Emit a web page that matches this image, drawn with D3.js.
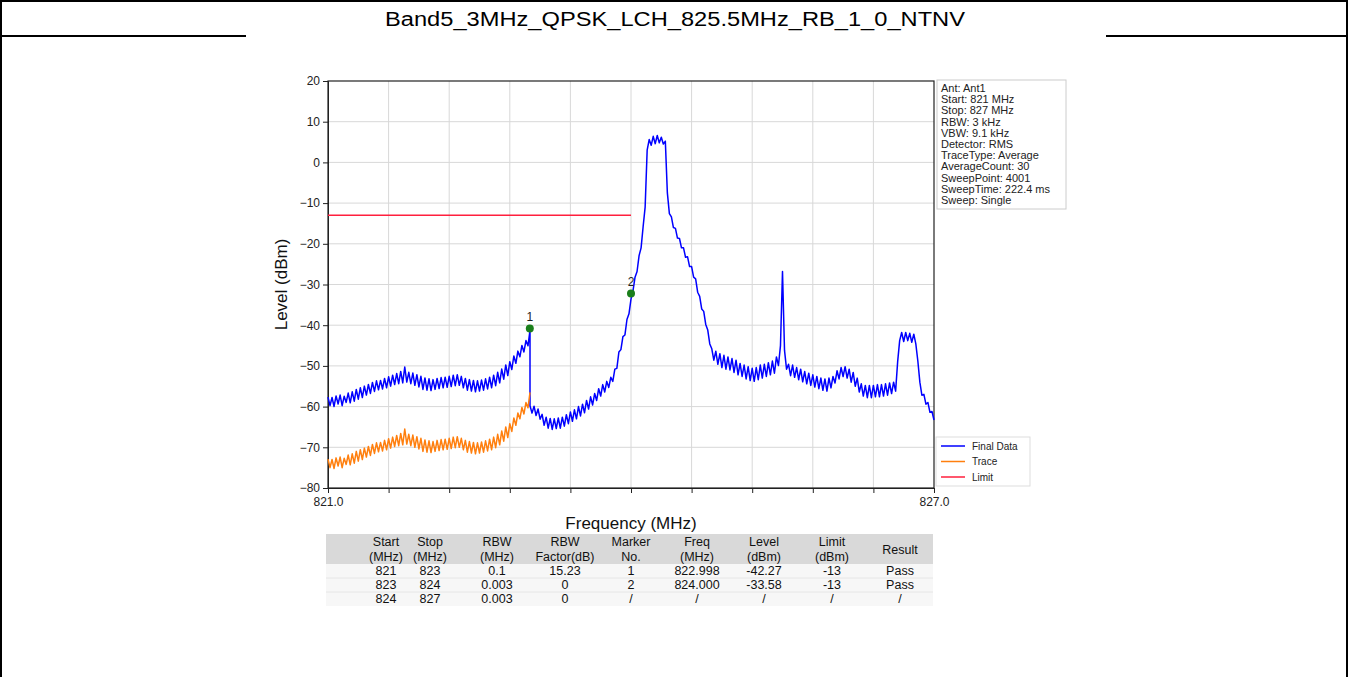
<!DOCTYPE html>
<html><head><meta charset="utf-8">
<script src="https://cdn.jsdelivr.net/npm/d3@7"></script>
<style>
body{margin:0;background:#fff;}
svg text{font-family:"Liberation Sans",Arial,sans-serif;}
</style></head>
<body>
<svg id="c" width="1348" height="677"></svg>
<script>
// ---------------- data ----------------
const title = "Band5_3MHz_QPSK_LCH_825.5MHz_RB_1_0_NTNV";
const freqStart = 821, freqStop = 827;
const yTicks = [-80,-70,-60,-50,-40,-30,-20,-10,0,10,20];
const yTickLabels = ["−80","−70","−60","−50","−40","−30","−20","−10","0","10","20"];
const xTicks = [821.0,821.6,822.2,822.8,823.4,824.0,824.6,825.2,825.8,826.4,827.0];
const xTickLabels = ["821.0","","","","","","","","","","827.0"];

// Trace (821–823 MHz, 0.02 MHz step), dBm
const traceStart = 821, traceStop = 823;
const traceValues = [
-72.9,-75.0,-73.0,-75.2,-72.6,-74.6,-72.4,-75.0,-72.7,-74.2,
-71.9,-74.3,-71.6,-73.9,-71.0,-73.4,-70.6,-73.0,-70.2,-72.4,
-69.8,-72.0,-69.3,-71.5,-68.9,-71.1,-68.8,-70.9,-68.3,-70.6,
-67.9,-70.2,-67.5,-69.8,-67.1,-69.6,-66.6,-69.4,-65.5,-69.2,
-66.8,-69.6,-67.0,-70.0,-67.4,-70.4,-67.8,-71.0,-68.2,-71.2,
-68.4,-71.3,-68.6,-71.0,-68.3,-70.8,-68.1,-70.6,-68.0,-70.5,
-67.8,-70.3,-67.5,-70.1,-67.4,-70.0,-67.8,-70.6,-68.3,-71.2,
-68.6,-71.4,-68.8,-71.6,-68.9,-71.4,-68.7,-71.2,-68.4,-70.9,
-68.0,-70.6,-67.5,-70.1,-66.8,-69.4,-66.0,-68.5,-65.0,-67.6,
-64.2,-66.1,-62.8,-64.6,-61.6,-63.0,-60.2,-61.8,-59.0,-60.3,
-56.5];
const rbwFactor = 15.23;

// Final Data above 823 MHz (0.02 MHz step), dBm
const finalStart = 823, finalStop = 827;
const finalValues = [
-59.8,-61.6,-59.9,-62.2,-60.6,-63.1,-61.9,-64.6,-62.6,-65.3,
-62.9,-65.6,-63.0,-65.4,-62.8,-65.3,-62.6,-64.8,-62.0,-64.2,
-61.3,-63.6,-60.8,-63.0,-60.0,-62.3,-59.4,-61.5,-58.5,-60.6,
-57.6,-59.6,-56.8,-58.5,-55.6,-57.4,-54.6,-56.4,-53.8,-55.3,
-52.8,-53.8,-50.8,-50.6,-46.6,-46.0,-42.8,-42.4,-38.6,-37.2,
-33.6,-31.5,-28.2,-26.8,-22.9,-21.0,-15.8,-11.0,3.0,5.6,
4.2,6.4,4.6,6.6,4.8,6.2,4.5,5.2,-7.5,-12.6,
-13.4,-16.0,-16.2,-18.6,-18.7,-21.0,-21.0,-23.3,-23.2,-25.6,
-25.6,-28.2,-28.6,-31.9,-32.9,-36.0,-36.6,-39.8,-41.2,-44.6,
-45.8,-48.6,-46.4,-49.6,-47.0,-50.4,-47.4,-50.8,-47.8,-51.0,
-48.2,-51.6,-48.6,-52.2,-49.4,-52.6,-49.8,-53.2,-50.2,-53.6,
-50.6,-53.8,-50.4,-53.4,-49.8,-53.0,-49.6,-52.6,-49.2,-52.2,
-48.8,-51.8,-47.8,-49.9,-45.0,-26.8,-46.2,-50.8,-49.6,-52.4,
-49.8,-52.8,-50.4,-53.4,-50.8,-53.9,-51.4,-54.4,-51.8,-54.8,
-52.2,-55.2,-52.6,-55.6,-53.0,-56.0,-53.2,-56.2,-53.0,-55.4,
-52.6,-54.2,-51.2,-53.2,-50.4,-52.6,-50.2,-53.0,-50.8,-54.0,
-51.6,-55.0,-53.0,-56.4,-54.4,-57.4,-54.8,-57.8,-54.8,-57.8,
-54.8,-57.6,-54.6,-57.6,-54.6,-57.4,-54.4,-57.2,-54.2,-56.8,
-54.0,-56.2,-49.0,-43.8,-41.8,-44.0,-41.8,-43.8,-42.0,-44.2,
-42.2,-44.6,-48.8,-54.0,-57.2,-57.0,-59.4,-59.0,-61.4,-61.2,
-63.3];

const limitFreq = [821, 824];
const limitLevel = [-13, -13];

const markerNo = ["1","2"];
const markerFreq = [822.998, 824.000];
const markerLevel = [-40.8, -32.2];

const infoLines = ["Ant: Ant1","Start: 821 MHz","Stop: 827 MHz","RBW: 3 kHz","VBW: 9.1 kHz",
 "Detector: RMS","TraceType: Average","AverageCount: 30","SweepPoint: 4001","SweepTime: 222.4 ms","Sweep: Single"];
const legendNames = ["Final Data","Trace","Limit"];
const legendColors = ["#0000ff","#ff7f0e","#ff1f3d"];

const tableHead1 = ["Start","Stop","RBW","RBW","Marker","Freq","Level","Limit",""];
const tableHead2 = ["(MHz)","(MHz)","(MHz)","Factor(dB)","No.","(MHz)","(dBm)","(dBm)",""];
const tableHeadSingle = ["","","","","","","","","Result"];
const tableRows = [
 ["821","823","0.1","15.23","1","822.998","-42.27","-13","Pass"],
 ["823","824","0.003","0","2","824.000","-33.58","-13","Pass"],
 ["824","827","0.003","0","/","/","/","/","/"]];

// ---------------- chart ----------------
const svg = d3.select("#c");
const W = 1348;

// outer frame + title
svg.append("rect").attr("x",1).attr("y",1).attr("width",W-2).attr("height",700)
  .attr("fill","none").attr("stroke","#000").attr("stroke-width",2);
svg.append("line").attr("x1",0).attr("x2",246).attr("y1",36).attr("y2",36).attr("stroke","#000").attr("stroke-width",2);
svg.append("line").attr("x1",1106).attr("x2",W).attr("y1",36).attr("y2",36).attr("stroke","#000").attr("stroke-width",2);
svg.append("text").attr("x",385).attr("y",26)
  .attr("font-size",20).attr("fill","#000")
  .attr("textLength",580).attr("lengthAdjust","spacingAndGlyphs").text(title);

const L=328, R=934, T=81, B=488;
const x = d3.scaleLinear().domain([freqStart,freqStop]).range([L,R]);
const y = d3.scaleLinear().domain([-80,20]).range([B,T]);

// grid
const g = svg.append("g");
g.selectAll("line.h").data(yTicks.slice(1,-1)).join("line")
  .attr("x1",L).attr("x2",R).attr("y1",d=>y(d)).attr("y2",d=>y(d))
  .attr("stroke","#d8d8d8").attr("stroke-width",1);
g.selectAll("line.v").data(xTicks.slice(1,-1)).join("line")
  .attr("y1",T).attr("y2",B).attr("x1",d=>x(d)).attr("x2",d=>x(d))
  .attr("stroke","#d8d8d8").attr("stroke-width",1);

// axes
const ax = svg.append("g").attr("transform",`translate(0,${B})`)
  .call(d3.axisBottom(x).tickValues(xTicks).tickSize(5).tickPadding(4)
    .tickFormat((d,i)=>xTickLabels[i]));
const ay = svg.append("g").attr("transform",`translate(${L},0)`)
  .call(d3.axisLeft(y).tickValues(yTicks).tickSize(5).tickPadding(3)
    .tickFormat((d,i)=>yTickLabels[i]));
[ax,ay].forEach(a=>{
  a.selectAll("text").attr("font-size",12).attr("fill","#222").attr("font-family","Liberation Sans, Arial, sans-serif");
  a.selectAll("line").attr("stroke","#222");
  a.select(".domain").attr("stroke","#222");
});
svg.append("rect").attr("x",L).attr("y",T).attr("width",R-L).attr("height",B-T)
  .attr("fill","none").attr("stroke","#222").attr("stroke-width",1.2);

svg.append("text").attr("transform",`translate(287,${(T+B)/2}) rotate(-90)`)
  .attr("text-anchor","middle").attr("font-size",17).attr("fill","#111").text("Level (dBm)");
svg.append("text").attr("x",(L+R)/2).attr("y",529).attr("text-anchor","middle")
  .attr("font-size",17).attr("fill","#111").text("Frequency (MHz)");

// series
const nT = traceValues.length, nF = finalValues.length;
const tracePts = traceValues.map((v,i)=>[traceStart + i*(traceStop-traceStart)/(nT-1), v]);
const finalPts = tracePts.map(p=>[p[0], p[1]+rbwFactor])
  .concat(finalValues.map((v,i)=>[finalStart + i*(finalStop-finalStart)/(nF-1), v]));
const line = d3.line().x(d=>x(d[0])).y(d=>y(d[1]));

svg.append("path").datum(finalPts).attr("d",line).attr("fill","none")
  .attr("stroke",legendColors[0]).attr("stroke-width",1.5).attr("stroke-linejoin","round");
svg.append("path").datum(tracePts).attr("d",line).attr("fill","none")
  .attr("stroke",legendColors[1]).attr("stroke-width",1.5).attr("stroke-linejoin","round");
svg.append("path").datum(limitFreq.map((f,i)=>[f,limitLevel[i]])).attr("d",line).attr("fill","none")
  .attr("stroke",legendColors[2]).attr("stroke-width",1.4);

// markers
markerFreq.forEach((f,i)=>{
  svg.append("circle").attr("cx",x(f)).attr("cy",y(markerLevel[i])).attr("r",4)
    .attr("fill","#1a7f1a");
  svg.append("text").attr("x",x(f)).attr("y",y(markerLevel[i])-7).attr("text-anchor","middle")
    .attr("font-size",12).attr("fill","#222").text(markerNo[i]);
});

// info box
const ib = svg.append("g");
ib.append("rect").attr("x",937).attr("y",80).attr("width",129).attr("height",129)
  .attr("fill","#fff").attr("stroke","#ccc");
ib.selectAll("text").data(infoLines).join("text")
  .attr("x",941).attr("y",(d,i)=>92+i*11.2).attr("font-size",11).attr("fill","#222").text(d=>d);

// legend
const lg = svg.append("g");
lg.append("rect").attr("x",936).attr("y",437).attr("width",94).attr("height",49)
  .attr("fill","#fff").attr("stroke","#ddd");
legendNames.forEach((n,i)=>{
  const yy = 446 + i*15.5;
  lg.append("line").attr("x1",941).attr("x2",965).attr("y1",yy).attr("y2",yy)
    .attr("stroke",legendColors[i]).attr("stroke-width",1.5);
  lg.append("text").attr("x",972).attr("y",yy+3.5).attr("font-size",10).attr("fill","#222").text(n);
});

// table
const colX = [386,430,497,565,631,697,764,832,900];
const tb = svg.append("g");
tb.append("rect").attr("x",326).attr("y",534).attr("width",607).attr("height",30).attr("fill","#d9d9d9");
tb.append("rect").attr("x",326).attr("y",564).attr("width",607).attr("height",42).attr("fill","#f7f7f7");
[578,592].forEach(yy=>tb.append("line").attr("x1",326).attr("x2",933).attr("y1",yy).attr("y2",yy)
  .attr("stroke","#e6e6e6"));
colX.forEach((cx,i)=>{
  tb.append("text").attr("x",cx).attr("y",546).attr("text-anchor","middle").attr("font-size",12.5).attr("fill","#111").text(tableHead1[i]);
  tb.append("text").attr("x",cx).attr("y",561).attr("text-anchor","middle").attr("font-size",12.5).attr("fill","#111").text(tableHead2[i]);
  if (tableHeadSingle[i]) tb.append("text").attr("x",cx).attr("y",553.5).attr("text-anchor","middle").attr("font-size",12.5).attr("fill","#111").text(tableHeadSingle[i]);
  tableRows.forEach((r,j)=>{
    tb.append("text").attr("x",cx).attr("y",575+j*14).attr("text-anchor","middle").attr("font-size",12.5).attr("fill","#111").text(r[i]);
  });
});
</script>
</body></html>
